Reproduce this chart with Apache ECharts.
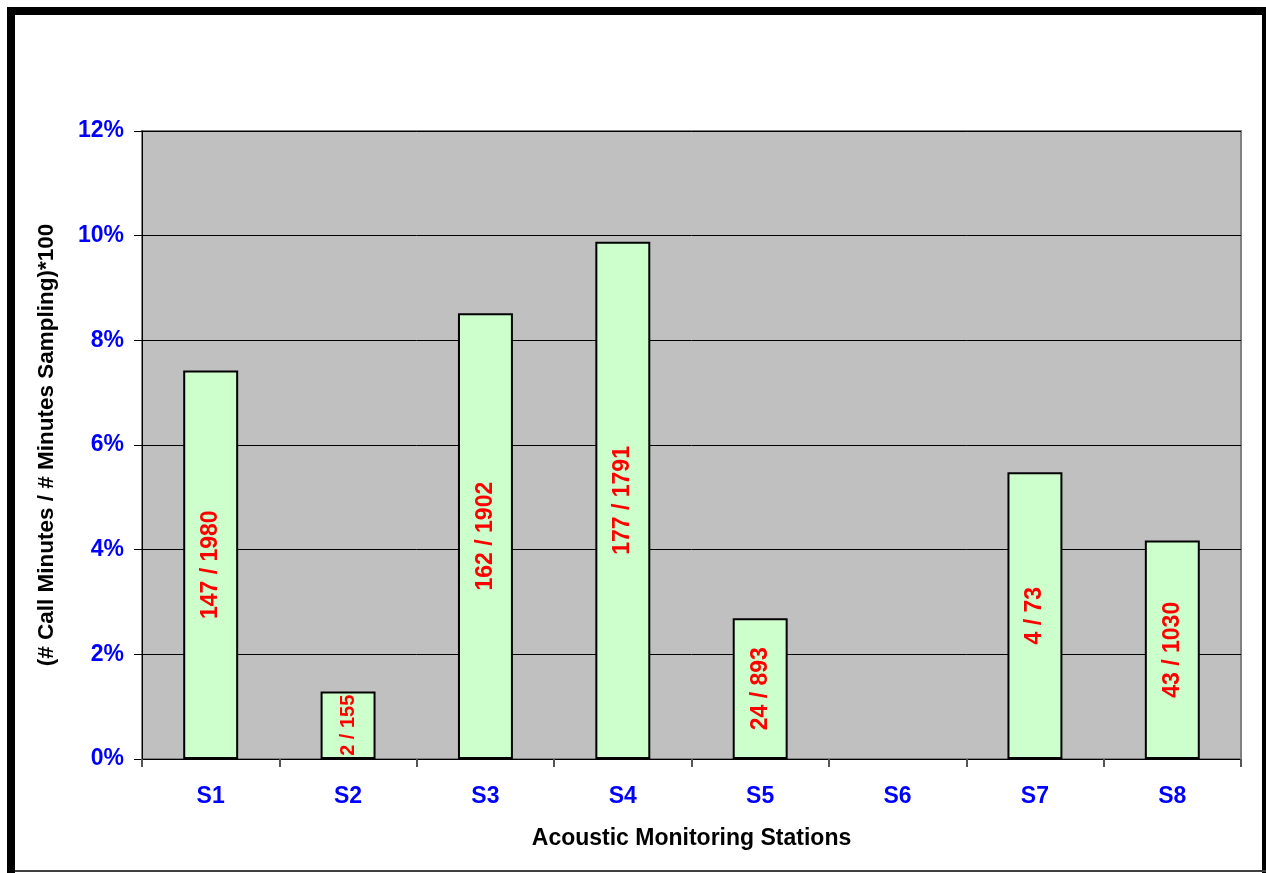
<!DOCTYPE html>
<html>
<head>
<meta charset="utf-8">
<title>Call minutes per sampling minute by station</title>
<script src="https://cdn.jsdelivr.net/npm/echarts@6/dist/echarts.min.js"></script>
<style>
  html, body { margin: 0; padding: 0; background: #ffffff; }
  #chart { width: 1266px; height: 873px; }
</style>
</head>
<body>
<div id="chart"></div>
<script>
// Stations along the x axis
const stations = ['S1', 'S2', 'S3', 'S4', 'S5', 'S6', 'S7', 'S8'];
// Minutes with calls detected at each station (null = no sampling)
const callMinutes = [147, 2, 162, 177, 24, null, 4, 43];
// Minutes sampled at each station
const samplingMinutes = [1980, 155, 1902, 1791, 893, null, 73, 1030];
// Y axis ticks (percent)
const yTicks = [0, 2, 4, 6, 8, 10, 12];

const FONT = '"Liberation Sans", Arial, Helvetica, sans-serif';
const LABEL_SIZE = 23;

// Bar height is the ratio printed on each bar, as a percentage
const percent = callMinutes.map((c, i) =>
  c == null || samplingMinutes[i] == null ? '-' : (c / samplingMinutes[i]) * 100
);
const barLabels = callMinutes.map((c, i) =>
  c == null ? '' : c + ' / ' + samplingMinutes[i]
);

// text width helper used to fit a label inside a short bar
const measureCtx = document.createElement('canvas').getContext('2d');
function textWidth(text, size) {
  measureCtx.font = 'bold ' + size + 'px ' + FONT;
  return measureCtx.measureText(text).width;
}

const chart = echarts.init(document.getElementById('chart'), null, { renderer: 'canvas' });

chart.setOption({
  backgroundColor: '#ffffff',
  animation: false,
  textStyle: { fontFamily: FONT },
  graphic: [
    // outer frame
    { type: 'rect', shape: { x: 7, y: 7, width: 8, height: 866 }, style: { fill: '#000' }, silent: true },
    { type: 'rect', shape: { x: 7, y: 7, width: 1259, height: 8 }, style: { fill: '#000' }, silent: true },
    { type: 'rect', shape: { x: 1262, y: 7, width: 4, height: 866 }, style: { fill: '#000' }, silent: true },
    { type: 'rect', shape: { x: 15, y: 870, width: 1251, height: 2 }, style: { fill: '#404040' }, silent: true }
  ],
  grid: {
    left: 142,
    top: 131,
    width: 1099,
    height: 628,
    show: true,
    backgroundColor: '#C0C0C0',
    borderColor: '#808080',
    borderWidth: 2
  },
  xAxis: {
    type: 'category',
    data: stations,
    boundaryGap: true,
    name: 'Acoustic Monitoring Stations',
    nameLocation: 'middle',
    nameGap: 68,
    nameTextStyle: { fontFamily: FONT, fontWeight: 'bold', fontSize: 23, color: '#000' },
    axisLine: { show: true, lineStyle: { color: '#000', width: 1 } },
    axisTick: { show: true, alignWithLabel: false, length: 8, lineStyle: { color: '#555', width: 2 } },
    axisLabel: { margin: 26, fontFamily: FONT, fontWeight: 'bold', fontSize: 23, color: '#0000FF' },
    splitLine: { show: false }
  },
  yAxis: {
    type: 'value',
    min: yTicks[0],
    max: yTicks[yTicks.length - 1],
    interval: yTicks[1] - yTicks[0],
    name: '(# Call Minutes / # Minutes Sampling)*100',
    nameLocation: 'middle',
    nameGap: 84,
    nameTextStyle: { fontFamily: FONT, fontWeight: 'bold', fontSize: 22.5, color: '#000' },
    axisLine: { show: true, lineStyle: { color: '#000', width: 1 } },
    axisTick: { show: true, length: 8, lineStyle: { color: '#000', width: 1 } },
    axisLabel: {
      margin: 18,
      fontFamily: FONT,
      fontWeight: 'bold',
      fontSize: 23,
      color: '#0000FF',
      formatter: '{value}%'
    },
    splitLine: { show: true, lineStyle: { color: '#000', width: 1 } }
  },
  series: [
    {
      type: 'bar',
      data: percent,
      barWidth: '40%',
      itemStyle: { color: '#CCFFCC', borderColor: '#000', borderWidth: 2 },
      label: {
        show: true,
        position: 'inside',
        rotate: 90,
        fontFamily: FONT,
        fontWeight: 'bold',
        fontSize: LABEL_SIZE,
        color: '#FF0000',
        formatter: p => barLabels[p.dataIndex]
      },
      // shrink a label that is longer than its bar
      labelLayout: params => {
        const text = barLabels[params.dataIndex];
        const room = params.rect.height - 4;
        const w = textWidth(text, LABEL_SIZE);
        if (text && w > room) {
          return { fontSize: Math.floor(LABEL_SIZE * room / w) };
        }
        return {};
      }
    }
  ]
});
</script>
</body>
</html>
